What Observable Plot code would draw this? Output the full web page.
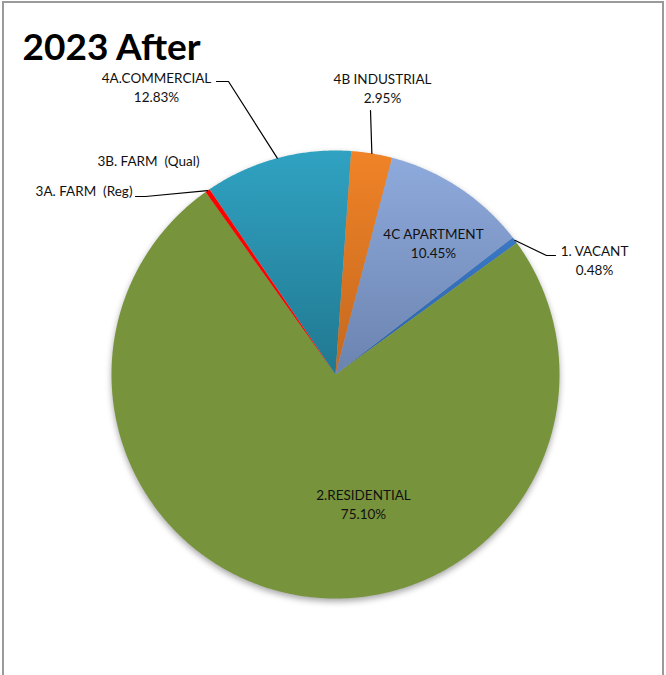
<!DOCTYPE html>
<html>
<head>
<meta charset="utf-8">
<script src="https://cdn.jsdelivr.net/npm/d3@7"></script>
<script src="https://cdn.jsdelivr.net/npm/@observablehq/plot@0.6"></script>
<style>
  html, body { margin: 0; padding: 0; background: #fff; }
  #frame { position: absolute; left: 2px; top: 1px; width: 662px; height: 720px; border: 2px solid #9a9a9a; box-sizing: border-box; }
  #chart { position: absolute; left: 0; top: 0; }
  #chart svg text { white-space: pre; }
</style>
</head>
<body>
<div id="frame"></div>
<div id="chart"></div>
<script>
// ---- data ----
const title = "2023 After";
const categories = ["1. VACANT", "2.RESIDENTIAL", "3A. FARM  (Reg)", "3B. FARM  (Qual)", "4A.COMMERCIAL", "4B INDUSTRIAL", "4C APARTMENT"];
const shares = [0.48, 75.10, 0.33, 0.03, 10.60, 2.95, 10.45];       // slice sizes as drawn
const pctLabels = ["0.48%", "75.10%", "", "", "12.83%", "2.95%", "10.45%"]; // label texts as printed

// ---- styling / layout ----
const W = 666, H = 675, cx = 335, cy = 374, R = 224;
const startAngle = 52.3; // degrees clockwise from 12 o'clock for first slice
const sliceColors = ["#3a78c4", "#77933c", "#ff0000", "#ff0000", "#30a2c2", "#f08327", "#8eaadc"];
const sliceColorsBottom = ["#2c63a8", "#77933c", "#ff0000", "#ff0000", "#217890", "#c4681f", "#6b83af"];
const labelLayout = {
  "1. VACANT": {x: 594, y: 255, anchor: "middle"},
  "2.RESIDENTIAL": {x: 363, y: 499, anchor: "middle"},
  "3A. FARM  (Reg)": {x: 132, y: 195, anchor: "end"},
  "3B. FARM  (Qual)": {x: 148, y: 165, anchor: "middle"},
  "4A.COMMERCIAL": {x: 156, y: 82, anchor: "middle"},
  "4B INDUSTRIAL": {x: 382, y: 83, anchor: "middle"},
  "4C APARTMENT": {x: 433, y: 238, anchor: "middle"}
};
const lineGap = 19;
const leaderElbows = {
  "4A.COMMERCIAL": [[216, 81], [228, 81]],
  "4B INDUSTRIAL": [[370, 110]],
  "1. VACANT": [[555, 255], [546, 255]],
  "3A. FARM  (Reg)": [[135, 196], [145, 196]]
};

const px2x = px => (px - cx) / R;
const py2y = py => (cy - py) / R;
const rad = a => a * Math.PI / 180;

// ---- slices ----
const total = d3.sum(shares);
let acc = startAngle;
const slices = categories.map((c, i) => {
  const a0 = acc, a1 = acc + shares[i] / total * 360;
  acc = a1;
  return {cat: c, a0, a1, mid: (a0 + a1) / 2};
});
const piePts = [];
for (const s of slices) {
  piePts.push({cat: s.cat, x: 0, y: 0});
  const n = Math.max(2, Math.ceil((s.a1 - s.a0) / 0.4));
  for (let k = 0; k <= n; k++) {
    const a = rad(s.a0 + (s.a1 - s.a0) * k / n);
    piePts.push({cat: s.cat, x: Math.sin(a), y: Math.cos(a)});
  }
}

// ---- leaders ----
const leaderPts = [];
for (const s of slices) {
  const el = leaderElbows[s.cat];
  if (!el) continue;
  for (const [px, py] of el) leaderPts.push({cat: s.cat, x: px2x(px), y: py2y(py)});
  leaderPts.push({cat: s.cat, x: Math.sin(rad(s.mid)), y: Math.cos(rad(s.mid))});
}

// ---- labels ----
const labelRows = [];
categories.forEach((c, i) => {
  const L = labelLayout[c];
  labelRows.push({text: c, x: px2x(L.x), y: py2y(L.y), anchor: L.anchor});
  if (pctLabels[i]) labelRows.push({text: pctLabels[i], x: px2x(L.x), y: py2y(L.y + lineGap), anchor: L.anchor});
});

const plot = Plot.plot({
  width: W, height: H,
  marginLeft: cx - R, marginRight: W - cx - R, marginTop: cy - R, marginBottom: H - cy - R,
  x: {domain: [-1, 1], axis: null},
  y: {domain: [-1, 1], axis: null},
  color: {domain: categories, range: sliceColors},
  style: {fontFamily: "Lato, 'Open Sans', sans-serif", background: "transparent", overflow: "visible"},
  marks: [
    Plot.line(piePts, {x: "x", y: "y", z: "cat", fill: "cat", stroke: "none", curve: "linear-closed"}),
    Plot.line(leaderPts, {x: "x", y: "y", z: "cat", stroke: "#000", strokeWidth: 1.2}),
    Plot.text(labelRows.filter(d => d.anchor === "middle"), {x: "x", y: "y", text: "text", textAnchor: "middle", lineAnchor: "bottom", fontSize: 13.5, fill: "#111"}),
    Plot.text(labelRows.filter(d => d.anchor === "end"), {x: "x", y: "y", text: "text", textAnchor: "end", lineAnchor: "bottom", fontSize: 13.5, fill: "#111"}),
    Plot.text([title], {x: px2x(22), y: py2y(59), text: d => d, textAnchor: "start", lineAnchor: "bottom", fontSize: 37, fontWeight: "bold", fill: "#000"})
  ]
});

// gradient shading + shadow on the pie slices drawn by Plot
const svg = d3.select(plot);
const defs = svg.insert("defs", ":first-child");
const colorToGrad = new Map();
sliceColors.forEach((c, i) => {
  const id = `sliceGrad${i}`;
  const g = defs.append("linearGradient").attr("id", id).attr("x1", 0).attr("y1", 0).attr("x2", 0).attr("y2", 1);
  g.append("stop").attr("offset", "0%").attr("stop-color", c);
  g.append("stop").attr("offset", "100%").attr("stop-color", sliceColorsBottom[i]);
  if (!colorToGrad.has(c)) colorToGrad.set(c, id);
});
const pieGroup = svg.selectAll('g[aria-label="line"]').filter((d, i) => i === 0);
pieGroup.style("filter", "drop-shadow(0px 3px 3px rgba(0,0,0,0.35))");
pieGroup.selectAll("path").each(function() {
  const f = (this.getAttribute("fill") || "").toLowerCase();
  if (colorToGrad.has(f)) this.setAttribute("fill", `url(#${colorToGrad.get(f)})`);
});

document.getElementById("chart").appendChild(plot);
</script>
</body>
</html>
